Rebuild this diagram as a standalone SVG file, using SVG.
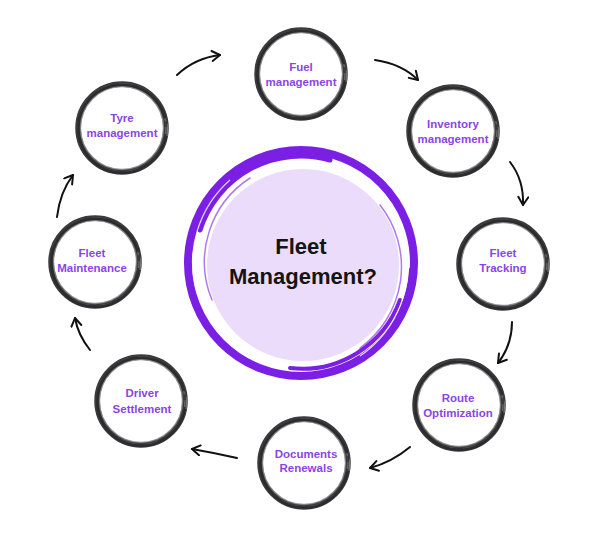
<svg xmlns="http://www.w3.org/2000/svg" width="600" height="534" viewBox="0 0 600 534">
<defs>
<style>
.ring{fill:#fff;stroke:#3b3a3c;stroke-width:5.5}
.ring2{fill:none;stroke:#8a898b;stroke-width:1.4;opacity:.8}
.ring3{fill:none;stroke:#2c2b2d;stroke-width:2.5}
.lbl{font-family:"Liberation Sans",Arial,sans-serif;font-weight:bold;font-size:11.5px;fill:#8a45e6;text-anchor:middle}
.big{font-family:"Liberation Sans",Arial,sans-serif;font-weight:bold;font-size:22px;fill:#141414;text-anchor:middle}
.arr{fill:none;stroke:#111;stroke-width:2;stroke-linecap:round;marker-end:url(#ah)}
.pr{fill:none;stroke:#7a1fe3;stroke-linecap:round}
</style>
<marker id="ah" markerUnits="userSpaceOnUse" markerWidth="14" markerHeight="14" refX="10" refY="6" orient="auto">
<path d="M2,1 L10,6 L2,11" fill="none" stroke="#111" stroke-width="2" stroke-linecap="round" stroke-linejoin="round"/>
</marker>
<g id="ringShape">
<circle r="44" class="ring"/>
<circle r="44" fill="none" stroke="#9a999b" stroke-width="0.8" stroke-dasharray="14 6 22 9" opacity=".7"/>
<circle r="41.5" class="ring2"/>
<path d="M44,6 A44,44 0 1 1 43,-10" class="ring3"/>
<path d="M46,-4 L45,8" stroke="#777" stroke-width="1.2" fill="none"/>
</g>
</defs>

<g id="connectors">
<path class="arr" d="M177,75 Q195,58 220,55"/>
<path class="arr" d="M375,60 Q402,64 418,80"/>
<path class="arr" d="M510,162 Q524,180 523,205"/>
<path class="arr" d="M512,322 Q512,345 498,363"/>
<path class="arr" d="M410,447 Q392,462 370,468"/>
<path class="arr" d="M237,458 Q215,453 192,449"/>
<path class="arr" d="M90,350 Q78,335 75,318"/>
<path class="arr" d="M57,217 Q60,192 73,175"/>
</g>

<g id="center">
<circle cx="303" cy="265" r="96" fill="#ebdcfb"/>
<circle cx="301" cy="263" r="113" class="pr" stroke-width="8"/>
<path class="pr" stroke-width="6" d="M190,250 A112,112 0 0 1 300,152"/>
<path class="pr" stroke-width="6" d="M412,270 A112,112 0 0 1 300,376"/>
<path class="pr" stroke-width="5" d="M200,230 A106,106 0 0 1 330,160"/>
<path class="pr" stroke-width="4" d="M400,300 A104,104 0 0 1 290,368"/>
<path class="pr" stroke-width="1.5" opacity=".6" d="M212,300 A100,100 0 0 1 250,178"/>
<path class="pr" stroke-width="1.5" opacity=".6" d="M380,205 A100,100 0 0 1 360,348"/>
<path class="pr" stroke-width="3" d="M392,200 A116,116 0 0 0 360,165"/>
<path fill="none" stroke="#fff" stroke-width="1.2" opacity=".8" d="M196,290 A110,110 0 0 1 230,180"/>
<path fill="none" stroke="#fff" stroke-width="1.2" opacity=".8" d="M405,240 A110,110 0 0 1 360,356"/>
<text class="big" x="301" y="254">Fleet</text>
<text class="big" x="303" y="284">Management?</text>
</g>

<g id="fuel">
<use href="#ringShape" x="301" y="74"/>
<text class="lbl" x="301" y="71">Fuel</text>
<text class="lbl" x="301" y="86">management</text>
</g>
<g id="inventory">
<use href="#ringShape" x="453" y="131"/>
<text class="lbl" x="453" y="128">Inventory</text>
<text class="lbl" x="453" y="143">management</text>
</g>
<g id="tracking">
<use href="#ringShape" x="503" y="264"/>
<text class="lbl" x="503" y="257">Fleet</text>
<text class="lbl" x="503" y="272">Tracking</text>
</g>
<g id="route">
<use href="#ringShape" x="459" y="405"/>
<text class="lbl" x="458" y="402">Route</text>
<text class="lbl" x="458" y="417">Optimization</text>
</g>
<g id="documents">
<use href="#ringShape" x="304" y="463"/>
<text class="lbl" x="306" y="458">Documents</text>
<text class="lbl" x="306" y="472">Renewals</text>
</g>
<g id="driver">
<use href="#ringShape" x="141" y="401"/>
<text class="lbl" x="142" y="397">Driver</text>
<text class="lbl" x="142" y="413">Settlement</text>
</g>
<g id="maintenance">
<use href="#ringShape" x="95" y="262"/>
<text class="lbl" x="92" y="257">Fleet</text>
<text class="lbl" x="92" y="272">Maintenance</text>
</g>
<g id="tyre">
<use href="#ringShape" x="122" y="128"/>
<text class="lbl" x="122" y="122">Tyre</text>
<text class="lbl" x="122" y="137">management</text>
</g>
</svg>
